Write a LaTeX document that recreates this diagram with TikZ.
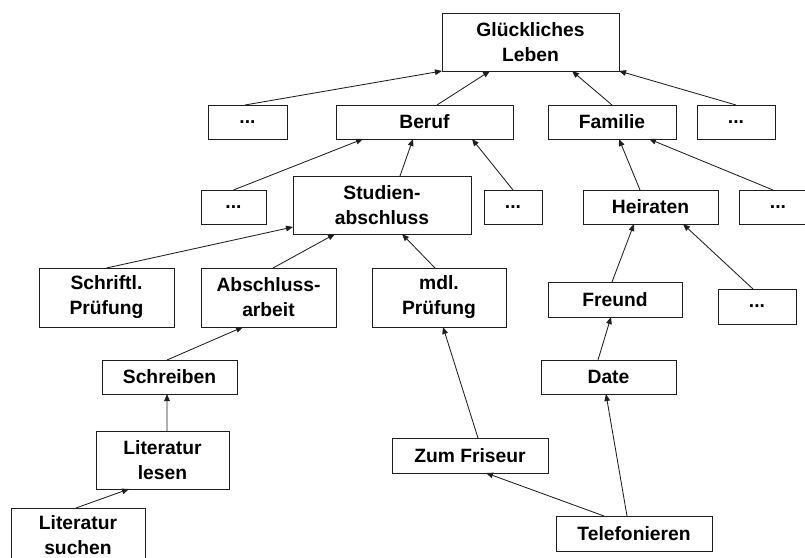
\documentclass[tikz,border=0pt]{standalone}
\usepackage{fontspec}
\setmainfont{Liberation Sans}
\usetikzlibrary{calc,arrows.meta}
\definecolor{ink}{HTML}{1E1E1E}
\tikzset{
  box/.style 2 args={draw=ink, line width=0.6pt, inner sep=0pt, outer sep=0pt,
    minimum width=#1*0.025cm, minimum height=#2*0.025cm, align=center,
    text=black, font=\fontsize{13.7}{17.8}\selectfont\bfseries},
  arr/.style={draw=ink, line width=0.6pt, -{Triangle[length=5pt,width=4pt]}},
}

\begin{document}
\begin{tikzpicture}[x=0.025cm, y=-0.025cm]
  \useasboundingbox (0,0) rectangle (805,558);
  \clip (0,0) rectangle (805,558);
  % goal and first level
  \node[box={177}{58}] (glueck)  at (530.5,42)  {Glückliches\\Leben};
  \node[box={79}{34}]  (dotsA)   at (247.5,122) {...};
  \node[box={177}{34}] (beruf)   at (424.5,122) {Beruf};
  \node[box={128}{34}] (familie) at (612,122)   {Familie};
  \node[box={78}{34}]  (dotsB)   at (736,122)   {...};
  % second level
  \node[box={65}{34}]  (dotsC)    at (233.5,207) {...};
  \node[box={178}{58}] (studium)  at (382,205)   {Studien-\\abschluss};
  \node[box={58}{34}]  (dotsD)    at (513,207)   {...};
  \node[box={135}{34}] (heiraten) at (650.5,207) {Heiraten};
  \node[box={78}{34}]  (dotsE)    at (778,207)   {...};
  % third level
  \node[box={135}{59}] (schrift) at (106.5,297.5) {Schriftl.\\Prüfung};
  \node[box={135}{59}] (arbeit)  at (268.5,297.5) {Abschluss-\\arbeit};
  \node[box={134}{59}] (muendl)  at (439,297.5)   {mdl.\\Prüfung};
  \node[box={134}{35}] (freund)  at (615,299.5)   {Freund};
  \node[box={78}{35}]  (dotsF)   at (757,306.5)   {...};
  % lower steps
  \node[box={135}{34}] (schreiben) at (169.5,377) {Schreiben};
  \node[box={135}{34}] (date)      at (608.5,377) {Date};
  \node[box={133}{58}] (lesen)     at (162.5,460) {Literatur\\lesen};
  \node[box={156}{35}] (friseur)   at (470,455.5) {Zum Friseur};
  \node[box={134}{54}] (suchen)    at (78,535)    {Literatur\\suchen};
  \node[box={156}{35}] (telefon)   at (634,533.5) {Telefonieren};
  % connectors
  \draw[arr] ($(dotsA.north)+(-2.5,0)$) -- (glueck.south west);
  \draw[arr] ($(beruf.north)+(12.5,0)$) -- ($(glueck.south)+(-40.5,0)$);
  \draw[arr] (familie.north) -- ($(glueck.south)+(41.5,0)$);
  \draw[arr] (dotsB.north) -- (glueck.south east);
  \draw[arr] (dotsC.north) -- ($(beruf.south)+(-61.5,0)$);
  \draw[arr] ($(studium.north)+(18,0)$) -- ($(beruf.south)+(-11.5,0)$);
  \draw[arr] (dotsD.north) -- ($(beruf.south)+(47.5,0)$);
  \draw[arr] ($(heiraten.north)+(-10.5,0)$) -- ($(familie.south)+(7,0)$);
  \draw[arr] ($(dotsE.north)+(-5,0)$) -- ($(familie.south)+(37,0)$);
  \draw[arr] (schrift.north) -- ($(studium.west)+(0,22)$);
  \draw[arr] ($(arbeit.north)+(4.5,0)$) -- ($(studium.south)+(-47,0)$);
  \draw[arr] ($(muendl.north)+(-4,0)$) -- ($(studium.south)+(20,0)$);
  \draw[arr] ($(freund.north)+(-3,0)$) -- ($(heiraten.south)+(-16.5,0)$);
  \draw[arr] ($(dotsF.north)+(-4,0)$) -- ($(heiraten.south)+(32.5,0)$);
  \draw[arr] ($(schreiben.north)+(-2.5,0)$) -- ($(arbeit.south)+(-25.5,0)$);
  \draw[arr] ($(date.north)+(-10.5,0)$) -- ($(freund.south)+(-4,0)$);
  \draw[arr] ($(lesen.north)+(4.5,0)$) -- ($(schreiben.south)+(-2.5,0)$);
  \draw[arr] ($(suchen.north)+(-2,0)$) -- ($(lesen.south)+(-33.5,0)$);
  \draw[arr] ($(friseur.north)+(8,0)$) -- ($(muendl.south)+(4,0)$);
  \draw[arr] ($(telefon.north)+(-30,0)$) -- ($(friseur.south)+(16,0)$);
  \draw[arr] ($(telefon.north)+(-7,0)$) -- ($(date.south)+(-2.5,0)$);
\end{tikzpicture}
\end{document}
